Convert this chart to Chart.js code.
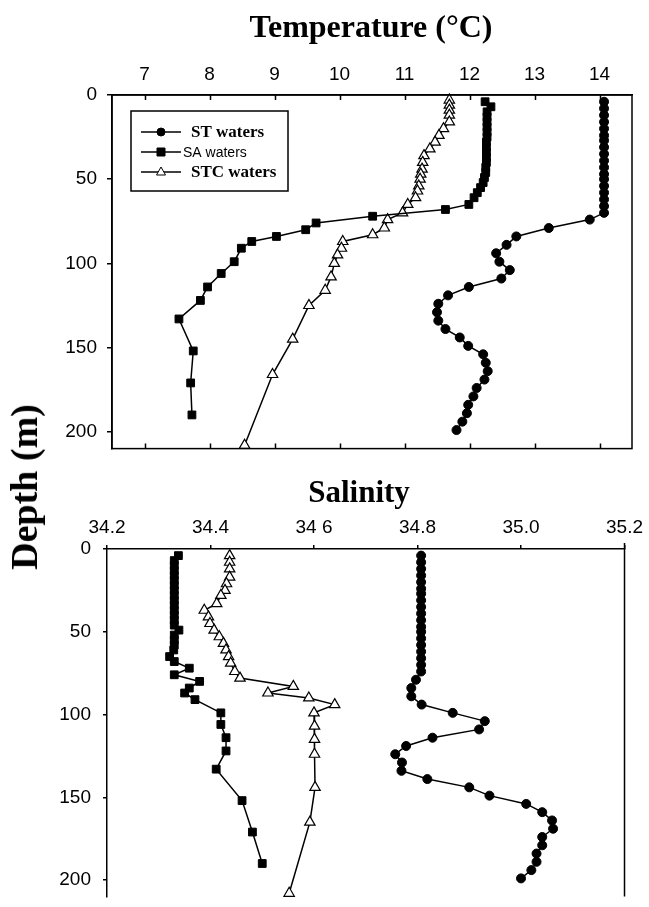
<!DOCTYPE html>
<html>
<head>
<meta charset="utf-8">
<script src="https://cdn.jsdelivr.net/npm/chart.js@4.4.0/dist/chart.umd.min.js"></script>
<style>
  html, body { margin: 0; padding: 0; background: #fff; overflow: hidden; }
  body { width: 649px; height: 907px; position: relative; }
  canvas { position: absolute; left: 0; }
  .title { position: absolute; font-family: 'Liberation Serif', 'Times New Roman', serif; font-weight: bold; line-height: 1; white-space: nowrap; color: #000; }
</style>
</head>
<body>
<canvas id="tempChart" width="649" height="470" style="top:0"></canvas>
<canvas id="salChart" width="649" height="480" style="top:440px"></canvas>
<div class="title" style="left:371px;top:10px;font-size:32px;transform:translateX(-50%)">Temperature (°C)</div>
<div class="title" style="left:359px;top:476px;font-size:31px;transform:translateX(-50%)">Salinity</div>
<div class="title" style="left:24px;top:487px;font-size:38px;transform:translate(-50%,-50%) rotate(-90deg)">Depth (m)</div>

<script>
// Depth profiles

// ST waters (circles)
const stDepth = [4, 8, 12, 16, 20, 24, 27, 31, 35, 39, 43, 47, 50, 54, 58, 62, 66, 70, 74,
                 79, 84, 89, 94, 99, 104, 109, 114, 119, 124, 129, 134, 139, 144, 149,
                 154, 159, 164, 169, 174, 179, 184, 189, 194, 199];
const stTemp = [14.07, 14.07, 14.07, 14.07, 14.07, 14.07, 14.07, 14.07, 14.07, 14.07, 14.07,
                14.07, 14.07, 14.07, 14.07, 14.07, 14.07, 14.07, 13.85,
                13.22, 12.72, 12.57, 12.41, 12.46, 12.62, 12.49, 11.99, 11.67, 11.52, 11.50,
                11.52, 11.63, 11.85, 11.98, 12.21, 12.25, 12.28, 12.23, 12.11, 12.06, 11.98,
                11.96, 11.89, 11.80];
const stSal = [34.807, 34.807, 34.807, 34.807, 34.807, 34.807, 34.807, 34.807, 34.807, 34.807,
               34.807, 34.807, 34.807, 34.807, 34.807, 34.807, 34.807, 34.807, 34.807,
               34.797, 34.788, 34.788, 34.808, 34.868, 34.930, 34.919, 34.829, 34.778, 34.757,
               34.770, 34.769, 34.819, 34.900, 34.939, 35.010, 35.041, 35.060, 35.062, 35.041,
               35.041, 35.030, 35.030, 35.020, 35.000];

// SA waters (squares)
const saDepth = [4, 7, 10, 13, 16, 19, 22, 25, 28, 31, 34, 37, 40, 43, 46, 49, 52, 55, 58, 61,
                 65, 68, 72, 76, 80, 84, 87, 91, 99, 106, 114, 122, 133, 152, 171, 190];
const saTemp = [12.24, 12.33, 12.27, 12.27, 12.27, 12.27, 12.27, 12.27, 12.26, 12.26, 12.26,
                12.26, 12.26, 12.25, 12.25, 12.23, 12.21, 12.17, 12.12, 12.07,
                11.99, 11.63, 10.51, 9.64, 9.48, 9.03, 8.65, 8.49, 8.38, 8.18, 7.97, 7.86,
                7.53, 7.75, 7.71, 7.73];
const saSal = [34.338, 34.330, 34.330, 34.330, 34.330, 34.330, 34.330, 34.330, 34.330, 34.330,
               34.330, 34.330, 34.330, 34.330, 34.330, 34.339, 34.330, 34.330, 34.330, 34.329,
               34.321, 34.330, 34.359, 34.330, 34.379, 34.359, 34.350, 34.370, 34.420, 34.420,
               34.430, 34.430, 34.411, 34.461, 34.481, 34.500];

// STC waters (triangles)
const stcTempDepth = [3, 6, 9, 12, 16, 20, 24, 28, 32, 36, 40, 44, 47, 50, 54, 57, 61, 65, 70,
                      74, 79, 83, 87, 91, 95, 100, 108, 116, 125, 145, 166, 208];
const stcTemp = [11.69, 11.69, 11.69, 11.69, 11.69, 11.60, 11.53, 11.47, 11.39, 11.30, 11.28,
                 11.27, 11.25, 11.24, 11.22, 11.20, 11.17, 11.05, 10.97,
                 10.74, 10.69, 10.51, 10.05, 10.03, 9.97, 9.92, 9.87, 9.78, 9.53, 9.28, 8.97, 8.54];
const stcSalDepth = [4, 8, 12, 17, 21, 25, 28, 33, 37, 41, 45, 49, 53, 57, 61, 65, 69, 74,
                     78, 83, 87, 90, 94, 99, 107, 115, 124, 144, 165, 208];
const stcSal = [34.437, 34.437, 34.437, 34.437, 34.431, 34.428, 34.420, 34.412, 34.388, 34.396,
                34.399, 34.407, 34.417, 34.425, 34.430, 34.435, 34.439, 34.447,
                34.457, 34.560, 34.511, 34.590, 34.640, 34.600, 34.601, 34.601, 34.601, 34.602,
                34.592, 34.552];

const depthTicks = [0, 50, 100, 150, 200];
const tempTicks = [7, 8, 9, 10, 11, 12, 13, 14];
const salTicks = [34.2, 34.4, 34.6, 34.8, 35.0, 35.2];
const salTickLabels = ['34.2', '34.4', '34 6', '34.8', '35.0', '35.2'];
const seriesNames = ['ST waters', 'SA waters', 'STC waters'];

const tickFont = { family: "'Liberation Sans', Arial, sans-serif", size: 19 };

function pairs(values, depths) {
    return values.map((v, i) => ({ x: v, y: depths[i] }));
}

function makeDatasets(st, sa, stc) {
    return [
        {
            label: seriesNames[0], data: st,
            borderColor: '#000', borderWidth: 1.5, showLine: true, clip: false,
            pointStyle: 'circle', pointRadius: 4.5,
            pointBackgroundColor: '#000', pointBorderColor: '#000', pointBorderWidth: 1
        },
        {
            label: seriesNames[1], data: sa,
            borderColor: '#000', borderWidth: 1.5, showLine: true, clip: false,
            pointStyle: 'rect', pointRadius: 5.5,
            pointBackgroundColor: '#000', pointBorderColor: '#000', pointBorderWidth: 1
        },
        {
            label: seriesNames[2], data: stc,
            borderColor: '#000', borderWidth: 1.5, showLine: true, clip: false,
            pointStyle: 'triangle', pointRadius: 6,
            pointBackgroundColor: '#fff', pointBorderColor: '#000', pointBorderWidth: 1.2
        }
    ];
}

// inward ticks and full box for the temperature panel
const tempFrame = {
    id: 'tempFrame',
    afterDraw(chart) {
        const { ctx, chartArea: a, scales } = chart;
        ctx.save();
        ctx.strokeStyle = '#000';
        ctx.lineWidth = 1.5;
        ctx.strokeRect(a.left, a.top, a.right - a.left, a.bottom - a.top);
        ctx.beginPath();
        scales.x.ticks.forEach(t => {
            const px = Math.round(scales.x.getPixelForValue(t.value)) + 0.5;
            ctx.moveTo(px, a.top); ctx.lineTo(px, a.top + 5);
            ctx.moveTo(px, a.bottom); ctx.lineTo(px, a.bottom - 5);
        });
        ctx.stroke();
        ctx.restore();
    }
};

// right edge line of the salinity panel
const salFrame = {
    id: 'salFrame',
    afterDraw(chart) {
        const { ctx, chartArea: a } = chart;
        ctx.save();
        ctx.strokeStyle = '#000';
        ctx.lineWidth = 1.5;
        ctx.beginPath();
        ctx.moveTo(a.right, a.top - 6);
        ctx.lineTo(a.right, a.bottom);
        ctx.stroke();
        ctx.restore();
    }
};

// legend box with mixed fonts, as in the figure
const profileLegend = {
    id: 'profileLegend',
    afterDraw(chart) {
        const ctx = chart.ctx;
        const fonts = [
            "bold 17px 'Liberation Serif', serif",
            "14px 'Liberation Sans', Arial, sans-serif",
            "bold 17px 'Liberation Serif', serif"
        ];
        const textX = [191, 183, 191];
        ctx.save();
        ctx.strokeStyle = '#000';
        ctx.lineWidth = 1.5;
        ctx.strokeRect(131, 111, 157, 80);
        chart.data.datasets.forEach((ds, i) => {
            const y = 132 + i * 20;
            ctx.lineWidth = 1.5;
            ctx.beginPath();
            ctx.moveTo(141, y); ctx.lineTo(181, y);
            ctx.stroke();
            ctx.lineWidth = 1;
            ctx.fillStyle = ds.pointBackgroundColor;
            ctx.beginPath();
            if (ds.pointStyle === 'circle') {
                ctx.arc(161, y, 4, 0, Math.PI * 2);
            } else if (ds.pointStyle === 'rect') {
                ctx.rect(157, y - 4, 8, 8);
            } else {
                ctx.moveTo(161, y - 5); ctx.lineTo(165.5, y + 3); ctx.lineTo(156.5, y + 3); ctx.closePath();
            }
            ctx.fill();
            ctx.stroke();
            ctx.fillStyle = '#000';
            ctx.font = fonts[i];
            ctx.textBaseline = 'middle';
            ctx.fillText(ds.label, textX[i], y + 1);
        });
        ctx.restore();
    }
};

new Chart(document.getElementById('tempChart'), {
    type: 'scatter',
    data: {
        datasets: makeDatasets(pairs(stTemp, stDepth), pairs(saTemp, saDepth), pairs(stcTemp, stcTempDepth))
    },
    options: {
        responsive: false,
        animation: false,
        layout: { padding: { left: 0, right: 17, top: 0, bottom: 13 } },
        plugins: { legend: { display: false }, tooltip: { enabled: false } },
        scales: {
            x: {
                type: 'linear', position: 'top', min: 6.5, max: 14.5,
                afterBuildTicks: s => { s.ticks = tempTicks.map(v => ({ value: v })); },
                afterFit: s => { s.height = 95; },
                ticks: { font: tickFont, color: '#000', padding: 9, maxRotation: 0, autoSkip: false },
                grid: { display: true, drawOnChartArea: false, drawTicks: false },
                border: { display: true, color: '#000', width: 1.5 }
            },
            y: {
                type: 'linear', reverse: true, min: 0, max: 210,
                afterBuildTicks: s => { s.ticks = depthTicks.map(v => ({ value: v })); },
                afterFit: s => { s.width = 112; },
                ticks: { font: tickFont, color: '#000', padding: 10 },
                grid: { display: true, drawOnChartArea: false, drawTicks: true, tickLength: 5, color: '#000', lineWidth: 1.5 },
                border: { display: true, color: '#000', width: 1.5 }
            }
        }
    },
    plugins: [tempFrame, profileLegend]
});

new Chart(document.getElementById('salChart'), {
    type: 'scatter',
    data: {
        datasets: makeDatasets(pairs(stSal, stDepth), pairs(saSal, saDepth), pairs(stcSal, stcSalDepth))
    },
    options: {
        responsive: false,
        animation: false,
        layout: { padding: { left: 0, right: 22, top: 0, bottom: 7 } },
        plugins: { legend: { display: false }, tooltip: { enabled: false } },
        scales: {
            x: {
                type: 'linear', position: 'top', min: 34.2, max: 35.2,
                afterBuildTicks: s => { s.ticks = salTicks.map(v => ({ value: v })); },
                afterFit: s => { s.height = 109; },
                ticks: {
                    font: tickFont, color: '#000', padding: 6, maxRotation: 0, autoSkip: false,
                    callback: (v, i) => salTickLabels[i]
                },
                grid: { display: true, drawOnChartArea: false, drawTicks: true, tickLength: 4, color: '#000', lineWidth: 1.5 },
                border: { display: true, color: '#000', width: 1.5 }
            },
            y: {
                type: 'linear', reverse: true, min: 0, max: 210,
                afterBuildTicks: s => { s.ticks = depthTicks.map(v => ({ value: v })); },
                afterFit: s => { s.width = 107; },
                ticks: { font: tickFont, color: '#000', padding: 12 },
                grid: { display: true, drawOnChartArea: false, drawTicks: true, tickLength: 4, color: '#000', lineWidth: 1.5 },
                border: { display: true, color: '#000', width: 1.5 }
            }
        }
    },
    plugins: [salFrame]
});
</script>
</body>
</html>
